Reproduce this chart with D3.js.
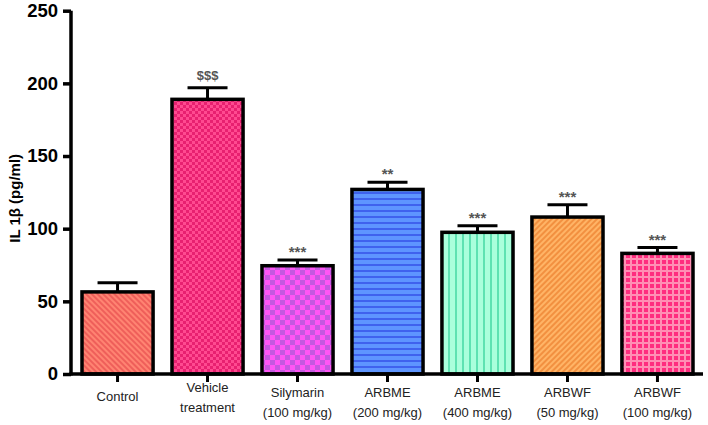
<!DOCTYPE html>
<html>
<head>
<meta charset="utf-8">
<script src="https://cdn.jsdelivr.net/npm/d3@7"></script>
<style>
  body { margin: 0; background: #fff; }
  text { font-family: "Liberation Sans", Arial, sans-serif; }
</style>
</head>
<body>
<script>
const WIDTH = 708;
const HEIGHT = 425;

// data
const groups = ['Control', 'Vehicle treatment', 'Silymarin (100 mg/kg)', 'ARBME (200 mg/kg)',
    'ARBME (400 mg/kg)', 'ARBWF (50 mg/kg)', 'ARBWF (100 mg/kg)'];
const labelLines = [['Control'], ['Vehicle', 'treatment'], ['Silymarin', '(100 mg/kg)'],
    ['ARBME', '(200 mg/kg)'], ['ARBME', '(400 mg/kg)'], ['ARBWF', '(50 mg/kg)'], ['ARBWF', '(100 mg/kg)']];
const means = [56.5, 189, 74.5, 127, 97.5, 108, 83];
const errors = [6.3, 8, 4, 5, 4.5, 8.5, 4];
const marks = ['', '$$$', '***', '**', '***', '***', '***'];
const yTicks = [0, 50, 100, 150, 200, 250];

const margin = { top: 10.7, right: 5, bottom: 51, left: 71 };

var svg = d3.select('body')
    .append('svg')
    .attr('width', WIDTH)
    .attr('height', HEIGHT);

var defs = svg.append('defs');

// fill patterns, one per bar
function stripes(id, base, line, size, angle, lw) {
    let p = defs.append('pattern')
        .attr('id', id)
        .attr('patternUnits', 'userSpaceOnUse')
        .attr('width', size).attr('height', size)
        .attr('patternTransform', `rotate(${angle})`);
    p.append('rect').attr('width', size).attr('height', size).attr('fill', base);
    p.append('rect').attr('width', lw).attr('height', size).attr('fill', line);
}
function checker(id, a, b, size) {
    let p = defs.append('pattern')
        .attr('id', id)
        .attr('patternUnits', 'userSpaceOnUse')
        .attr('width', size * 2).attr('height', size * 2);
    p.append('rect').attr('width', size * 2).attr('height', size * 2).attr('fill', a);
    p.append('rect').attr('width', size).attr('height', size).attr('fill', b);
    p.append('rect').attr('x', size).attr('y', size).attr('width', size).attr('height', size).attr('fill', b);
}
function grid(id, base, line, size, lw) {
    let p = defs.append('pattern')
        .attr('id', id)
        .attr('patternUnits', 'userSpaceOnUse')
        .attr('width', size).attr('height', size);
    p.append('rect').attr('width', size).attr('height', size).attr('fill', base);
    p.append('rect').attr('width', lw).attr('height', size).attr('fill', line);
    p.append('rect').attr('width', size).attr('height', lw).attr('fill', line);
}

stripes('p0', '#ff8472', '#ef5f5a', 4, -45, 2);
checker('p1', '#ff4a90', '#e82070', 3);
checker('p2', '#ff55f5', '#c458e0', 5);
stripes('p3', '#5e95ff', '#3f62ee', 6, 90, 2);
stripes('p4', '#aaffdc', '#5ee2b2', 7, 0, 2);
stripes('p5', '#ffb466', '#f29040', 4, 45, 2);
grid('p6', '#ff2d7f', '#ff8fb4', 6, 2);

var x = d3.scaleBand()
    .domain(groups)
    .range([73, WIDTH - 6])
    .paddingInner(0.21)
    .paddingOuter(0.1);

var y = d3.scaleLinear()
    .domain([0, 250])
    .range([HEIGHT - margin.bottom, margin.top]);

var g = svg.append('g');

// bars
g.selectAll('.bar')
    .data(groups)
    .enter()
    .append('rect')
    .attr('class', 'bar')
    .attr('x', d => x(d))
    .attr('width', x.bandwidth())
    .attr('y', (d, i) => y(means[i]))
    .attr('height', (d, i) => y(0) - y(means[i]))
    .attr('fill', (d, i) => `url(#p${i})`)
    .attr('stroke', '#000')
    .attr('stroke-width', 3.5);

// error bars (upper only)
const CAP = 20;
var err = g.selectAll('.err')
    .data(groups)
    .enter()
    .append('g')
    .attr('class', 'err')
    .attr('stroke', '#000')
    .attr('stroke-width', 3);
err.append('line')
    .attr('x1', d => x(d) + x.bandwidth() / 2)
    .attr('x2', d => x(d) + x.bandwidth() / 2)
    .attr('y1', (d, i) => y(means[i]))
    .attr('y2', (d, i) => y(means[i] + errors[i]));
err.append('line')
    .attr('x1', d => x(d) + x.bandwidth() / 2 - CAP)
    .attr('x2', d => x(d) + x.bandwidth() / 2 + CAP)
    .attr('y1', (d, i) => y(means[i] + errors[i]))
    .attr('y2', (d, i) => y(means[i] + errors[i]));

// significance marks
g.selectAll('.mark')
    .data(groups)
    .enter()
    .append('text')
    .attr('class', 'mark')
    .attr('x', d => x(d) + x.bandwidth() / 2)
    .attr('y', (d, i) => y(means[i] + errors[i]) - (marks[i] == '$$$' ? 8 : 3))
    .attr('text-anchor', 'middle')
    .attr('font-size', (d, i) => marks[i] == '$$$' ? 13 : 15)
    .attr('font-weight', 'bold')
    .attr('fill', '#555')
    .text((d, i) => marks[i]);

// y axis
var yAxis = g.append('g')
    .attr('transform', `translate(${margin.left},0)`)
    .call(d3.axisLeft(y).tickValues(yTicks).tickSize(8).tickSizeOuter(0).tickPadding(5));
yAxis.select('.domain').attr('stroke-width', 3.5).attr('d', `M0,${y(250)}V${y(0) + 1.5}`);
yAxis.selectAll('.tick line').attr('stroke-width', 3.5);
yAxis.selectAll('.tick text')
    .attr('font-size', 18.5)
    .attr('font-weight', 'bold')
    .attr('fill', '#000')
    .style('font-family', '"Liberation Sans", Arial, sans-serif');

// x axis
var xAxis = g.append('g')
    .attr('transform', `translate(0,${y(0)})`)
    .call(d3.axisBottom(x).tickSize(8).tickSizeOuter(0).tickFormat(''));
xAxis.select('.domain').attr('stroke-width', 3.5).attr('d', `M${margin.left - 1.5},0H${WIDTH - 5}`);
xAxis.selectAll('.tick line').attr('stroke-width', 3);

// x labels, broken in lines
var lab = g.selectAll('.xlab')
    .data(groups)
    .enter()
    .append('text')
    .attr('class', 'xlab')
    .attr('text-anchor', 'middle')
    .attr('font-size', 13)
    .attr('fill', '#222');
lab.each(function(d, i) {
    let lines = labelLines[i];
    let cx = x(d) + x.bandwidth() / 2;
    let y0 = lines.length == 1 ? 401 : (i == 1 ? 392 : 397);
    lines.forEach((t, k) => {
        d3.select(this).append('tspan')
            .attr('x', cx)
            .attr('y', y0 + k * 20)
            .text(t);
    });
});

// y axis title
svg.append('text')
    .attr('transform', `translate(20,${(y(0) + y(250)) / 2 + 6}) rotate(-90)`)
    .attr('text-anchor', 'middle')
    .attr('font-size', 15)
    .attr('font-weight', 'bold')
    .text('IL 1β (pg/ml)');
</script>
</body>
</html>
